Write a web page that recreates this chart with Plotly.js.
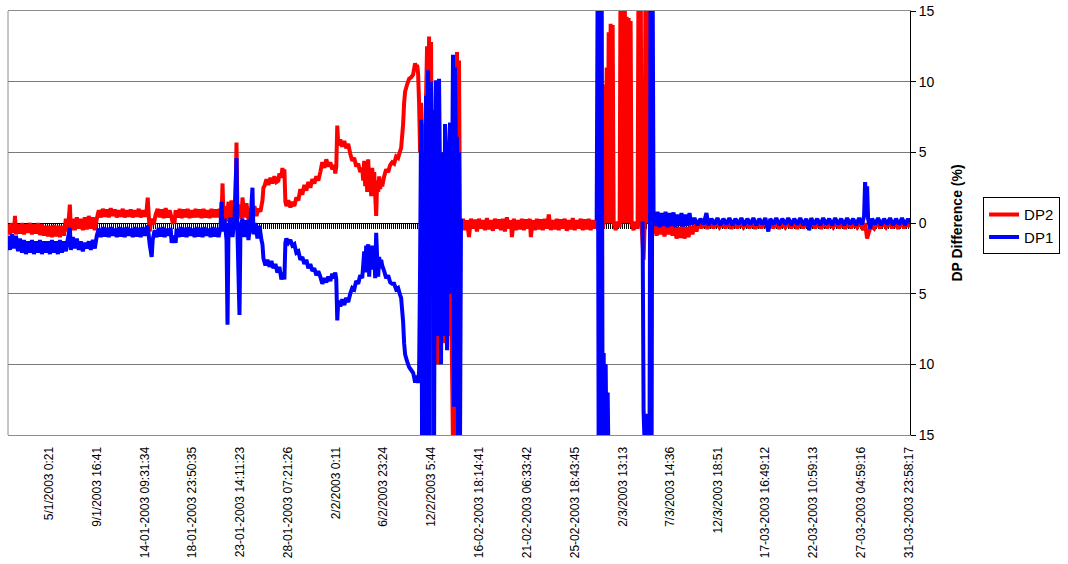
<!DOCTYPE html>
<html><head><meta charset="utf-8">
<script src="https://cdn.plot.ly/plotly-3.0.1.min.js"></script>
<style>html,body{margin:0;padding:0;background:#fff;}#chart{width:1068px;height:564px;}</style>
</head><body><div id="chart"></div>
<script>
// record index of each labelled category and the labels
const tickRecords = [41,89,137,185,233,281,329,376,424,472,520,568,616,664,712,759,807,855,903];
const tickLabels = ["5/1/2003 0:21","9/1/2003 16:41","14-01-2003 09:31:34","18-01-2003 23:50:35","23-01-2003 14:11:23","28-01-2003 07:21:26","2/2/2003 0:11","6/2/2003 23:24","12/2/2003 5:44","16-02-2003 18:14:41","21-02-2003 06:33:42","25-02-2003 18:43:45","2/3/2003 13:13","7/3/2003 14:36","12/3/2003 18:51","17-03-2003 16:49:12","22-03-2003 10:59:13","27-03-2003 04:59:16","31-03-2003 23:58:17"];
const yTicks = [-15,-10,-5,0,5,10,15];
const yTickLabels = ["15","10","5","0","5","10","15"];

// DP2 (record, % difference)
const dp2Jan = [[0,-0.1],[2,-0.8],[4,0.0],[6,-0.7],[7,0.5],[8,-0.8],[10,-0.1],[12,-0.75],[14,0.0],[16,-0.8],[18,-0.1],[20,-0.7],[22,0.0],[24,-0.8],[26,-0.1],[28,-0.75],[30,0.0],[32,-0.85],[34,-0.1],[36,-0.9],[38,-0.2],[40,-0.95],[42,-0.2],[44,-1.0],[46,-0.15],[48,-0.95],[50,-0.2],[52,-1.0],[54,-0.2],[56,-0.9],
[58,0.3],[60,-0.6],[62,1.3],[63,-0.5],[65,0.3],[67,-0.5],[69,0.4],[71,-0.4],[73,0.3],[75,-0.5],[77,0.4],[79,-0.45],[81,0.5],[83,-0.4],[85,0.4],[87,-0.5],[89,0.3],
[91,0.9],[93,0.4],[95,1.0],[97,0.45],[99,0.95],[101,0.4],[103,1.05],[105,0.5],[107,0.95],[109,0.4],[111,0.9],[113,0.45],[115,1.0],[117,0.4],[119,0.9],[121,0.45],[123,0.95],[125,0.4],[127,0.9],[129,0.45],[131,1.0],[133,0.4],[135,0.9],[137,0.45],[139,0.95],[140,1.8],[142,-0.6],[144,0.3],[146,-0.1],[148,0.6],
[150,1.0],[152,0.4],[154,0.95],[156,0.35],[158,1.05],[160,0.4],[162,0.9],[164,0.35],[165,0.05],[167,0.1],[168,0.9],[170,0.4],[172,1.0],[174,0.35],[176,0.95],[178,0.4],[180,1.0],[182,0.35],[184,0.9],[186,0.4],[188,1.0],[190,0.4],[192,0.95],[194,0.35],[196,1.0],[198,0.4],[200,0.9],[202,0.35],[204,1.0],[206,0.4],[208,0.95],[210,0.4],[212,1.0],
[214,0.4],[215,2.8],[216,0.2],[218,1.2],[219,0.1],[221,1.5],[222,0.3],[224,1.6],[226,0.2],[228,1.1],[229,5.7],[230,0.6],[232,1.3],[234,0.3],[235,1.8],[237,0.4],[239,1.4],[241,0.2],[243,1.0],[245,0.3],[247,1.2],[249,0.5],[251,1.0],[253,0.8],[255,1.6],[256,2.5],
[257,2.6],[259,3.1],[261,2.7],[263,3.2],[265,2.8],[267,3.3],[269,2.9],[271,3.0],[272,3.5],[274,3.2],[275,3.9],[276,3.3],[277,3.8],[278,1.5]];
const dp2Feb = [[279,1.2],[281,1.6],[283,1.1],[285,1.5],[287,1.2],[289,1.8],[291,1.6],[293,2.4],
[295,2.0],[297,2.7],[299,2.3],[301,2.9],[303,2.5],[305,3.1],[307,2.8],[309,3.3],[311,3.0],
[313,3.6],[315,4.3],[317,3.9],[319,4.5],[321,4.0],[323,4.3],[325,3.8],[327,4.1],[328,3.5],[329,4.0],[330,6.9],
[331,5.5],[333,5.9],[335,5.4],[337,5.8],[339,5.3],[341,5.6],
[343,4.9],[345,4.4],[347,4.6],[349,4.0],[351,4.2],[353,3.6],[355,3.9],
[356,3.0],[357,4.4],[358,2.6],[359,3.8],[360,2.2],[361,4.5],[362,2.8],[363,3.5],[364,1.9],[365,3.9],[366,2.5],[367,3.6],[368,2.0],[369,0.5],[370,3.0],[371,2.2],[372,3.3],[373,2.4],[374,3.1],[375,2.6],
[377,3.3],[379,3.8],[381,3.6],[383,4.1],[385,4.3],[387,4.2],[389,4.7],[391,4.6],[393,5.1],[394,5.3],
[396,7.0],[397,8.5],[398,9.3],[400,9.8],[402,10.2],[404,10.3],[406,10.5],[407,10.9],[408,11.3],[409,11.0],[410,11.2],
[411,10.6],[412,8.5],[413,5],[414,8.5],[415,3],[416,7],[417,-2],[418,5],[419,9],[420,12.5],[421,1],[422,13.2],[423,2],[424,12.8],[425,-4],[426,-16],[427,0],[428,-8],[429,-1],[430,-10],[431,-4],[432,-9.5],[433,-3],[434,-8],[435,-1],[436,-7],[437,-3],[438,-8.5],[439,-5],[440,-7],[441,-2],[442,-8],[443,-3],[444,-6],[445,-10],[446,-16],[447,-12],[448,-16],[449,0],[450,12.1],[451,-6.5],[452,11.5],[453,-0.3],[454,-0.4],
[456,0.3],[458,-0.5],[460,0.2],[462,-1.0],[464,0.3],[466,-0.4],[468,0.25],[470,-0.6],[472,0.3],[474,-0.4],[476,0.2],[478,-0.5],[480,0.35],[482,-0.45],[484,0.2],[486,-0.55],[488,0.3],[490,-0.4],[492,0.25],[494,-0.5],[496,0.3],[498,-0.6],[500,0.4],[502,-0.4],[504,0.2],[505,-1.0],[507,0.3],[509,-0.5],[511,0.2],[513,-0.45],[515,0.3],[517,-0.5],[519,0.25],[521,-0.4],[523,0.3],[524,-1.0],[526,0.2],[528,-0.5],[530,0.3],[532,-0.45],[534,0.25],[536,-0.5],[538,0.3],[540,-0.4],[542,0.6],[544,-0.5],[546,0.2],[548,-0.45],[550,0.3],[552,-0.5],[554,0.25],[556,-0.4],[558,0.3],[560,-0.55],[562,0.2],[564,-0.45],[566,0.35],[568,-0.5],[570,0.2],[572,-0.4],[574,0.3],[576,-0.5],[578,0.25],[580,-0.45],[582,0.3],[584,-0.5],[586,0.2],[588,-0.4],[590,0.2]];
const dp2Mar = [[592,-0.5],[594,0.1],[596,-0.4],[597,0],[598,9.8],[599,0],[600,11],[601,0],[602,13.5],[603,0],[604,14.1],[605,0.2],[606,14],[607,0],[609,-0.5],[611,0.1],[613,-0.3],[614,20],[615,0],[616,20],[617,0],[618,20],[619,0.1],[620,14.6],[621,0],[622,14.5],[623,0],[624,14.3],[625,-0.1],[627,-0.5],[629,0.1],[631,-0.4],[632,20],[633,0],[634,20],[635,-0.2],[637,-2.6],[638,-0.3],[639,20],[640,0],[641,20],[642,0],[643,20],[644,0],[646,-0.4],
[648,-0.2],[650,-0.9],[652,-0.1],[654,-0.8],[656,-0.2],[658,-0.95],[660,-0.1],[662,-0.8],[664,-0.2],[666,-0.9],[668,-0.2],[670,-1.1],[672,-0.3],[674,-1.05],[676,-0.2],[678,-1.1],[680,-0.3],[682,-1.0],[684,-0.2],[686,-0.8],[688,-0.1],[690,-0.6],[692,0.0],
[695,-0.35],[698,0.05],[701,-0.4],[704,0.0],[707,-0.35],[710,0.05],[713,-0.3],[716,0.0],[719,-0.35],[722,0.05],[725,-0.4],[728,0.0],[731,-0.35],[734,0.05],[737,-0.3],[740,0.0],[743,-0.35],[746,0.05],[749,-0.4],[752,0.0],[755,-0.35],[758,0.05],[761,-0.3],[764,0.0],[767,-0.35],[770,0.05],[773,-0.4],[776,0.0],[779,-0.3],[782,0.05],[785,-0.35],[788,0.0],[791,-0.4],[794,0.05],[797,-0.35],[800,0.0],[803,-0.3],[806,0.05],[809,-0.35],[812,0.0],[815,-0.4],[818,0.05],[821,-0.35],[824,0.0],[827,-0.3],[830,0.05],[833,-0.35],[836,0.0],[839,-0.4],[842,0.05],[845,-0.35],[848,0.0],[851,-0.3],[854,0.05],[857,-0.5],[859,0.0],[861,-1.1],[863,-0.6],[865,-0.2],[868,-0.4],[871,0.05],[874,-0.35],[877,0.0],[880,-0.3],[883,0.05],[886,-0.35],[889,0.0],[892,-0.4],[895,0.05],[898,-0.35],[901,0.0],[904,-0.3]];

// DP1 (record, % difference); null = no DP1 reading
const dp1Jan = [[0,-0.9],[2,-1.9],[4,-0.8],[6,-1.8],[8,-0.9],[10,-2.0],[12,-1.1],
[14,-2.1],[16,-1.2],[18,-2.2],[20,-1.3],[22,-2.1],[24,-1.2],[26,-2.2],[28,-1.3],[30,-2.1],[32,-1.2],[34,-2.2],[36,-1.3],[38,-2.1],[40,-1.3],[42,-2.2],[44,-1.2],[46,-2.1],[48,-1.3],[50,-2.2],[52,-1.2],[54,-2.1],[56,-1.3],
[58,-2.0],[60,-1.1],[62,-0.35],[63,-1.9],[65,-1.0],[67,-1.8],[69,-1.1],[71,-1.9],[73,-1.3],[75,-2.0],[77,-1.4],[79,-1.8],[81,-1.3],[83,-1.9],[85,-1.2],[87,-1.8],[89,-0.9],
[91,-0.4],[93,-1.0],[95,-0.3],[97,-0.95],[99,-0.35],[101,-1.0],[103,-0.3],[105,-0.9],[107,-0.4],[109,-1.0],[111,-0.3],[113,-0.95],[115,-0.35],[117,-1.0],[119,-0.3],[121,-0.9],[123,-0.4],[125,-1.0],[127,-0.3],[129,-0.95],[131,-0.35],[133,-1.0],[135,-0.3],[137,-0.9],[139,-0.4],[140,-0.2],[142,-1.5],[144,-2.4],[145,-1.2],[147,-0.5],
[149,-1.0],[151,-0.35],[153,-0.95],[155,-0.3],[157,-1.0],[159,-0.4],[161,-0.9],[163,-0.35],[164,-1.4],[166,-0.9],[168,-1.4],[169,-0.4],[171,-1.0],[173,-0.3],[175,-0.95],[177,-0.35],[179,-1.0],[181,-0.3],[183,-0.9],[185,-0.4],[187,-1.0],[189,-0.3],[191,-0.95],[193,-0.35],[195,-1.0],[197,-0.3],[199,-0.9],[201,-0.4],[203,-1.0],[205,-0.3],[207,-0.95],[209,-0.35],[211,-1.0],[213,-0.3],
[214,1.5],[215,-0.6],[217,0.3],[219,-1.2],[220,-7.2],[221,-0.5],[223,0.4],[225,-1.0],[227,0.2],[229,4.6],[230,-0.8],[232,-6.5],[233,-0.3],[235,0.3],[237,-1.0],[239,0.2],[241,-1.2],[243,0.1],[245,2.5],[246,-0.8],[248,0.0],[250,-1.1],[252,-0.2],[254,-1.2],[255,-1.5],
[256,-2.5],[258,-3.0],[260,-2.6],[262,-3.1],[264,-2.7],[266,-3.2],[268,-2.9],[270,-3.5],[272,-3.1],[274,-4.0],[276,-3.5],[277,-4.0],[278,-1.4]];
const dp1Feb = [[279,-1.1],[281,-1.4],[283,-1.2],[285,-1.6],[287,-1.5],[289,-2.1],[291,-2.0],[293,-2.6],
[295,-2.4],[297,-2.9],[299,-2.6],[301,-3.2],[303,-2.9],[305,-3.4],[307,-3.2],[309,-3.7],[311,-3.4],
[313,-3.8],[315,-4.3],[317,-3.9],[319,-4.2],[321,-3.8],[323,-4.1],[325,-3.6],[327,-3.9],[328,-3.5],[329,-4.0],[330,-6.9],
[331,-5.5],[333,-5.9],[335,-5.4],[337,-5.8],[339,-5.3],[341,-5.6],
[343,-5.0],[345,-4.6],[347,-4.7],[349,-4.1],[351,-4.3],[353,-3.7],[355,-3.9],
[356,-3.0],[357,-2.0],[358,-3.5],[359,-1.6],[360,-2.8],[361,-1.5],[362,-3.8],[363,-1.9],[364,-3.3],[365,-1.6],[366,-3.0],[367,-2.0],[368,-3.9],[369,-0.7],[370,-2.5],[371,-3.8],[372,-2.4],[373,-3.2],[374,-2.6],[375,-3.0],
[377,-3.4],[379,-3.9],[381,-3.7],[383,-4.2],[385,-4.3],[387,-4.3],[389,-4.7],[391,-4.6],[393,-5.1],[394,-5.3],
[396,-7.0],[397,-8.5],[398,-9.3],[400,-9.8],[402,-10.2],[404,-10.4],[406,-10.6],[407,-10.9],[408,-11.3],[409,-10.8],[410,-11.0],
[411,-11.3],[412,-10.5],[413,-3],[414,7.3],[415,-16],[416,5],[417,-16],[418,3],[419,9],[420,-16],[421,10.8],[422,-16],[423,6],[424,10],[425,-2],[426,8],[427,-16],[428,6],[429,10.1],[430,-8],[431,7],[432,10.2],[433,3],[434,-10],[435,5],[436,2],[437,-8],[438,7],[439,5],[440,-9],[441,5],[442,3],[443,7.1],[444,-5],[445,2],[446,11.9],[447,-13],[448,11],[449,4],[450,6.1],[451,-16],[452,5],[453,-16],[454,0.3],[455,null]];
const dp1Mar = [[590,0.2],[591,18],[592,-18],[593,18],[594,-18],[595,18],[596,-18],[597,-9.2],[598,-18],[599,-10],[600,-18],[601,-12],[602,-18],[603,null],
[636,0.1],[637,-13.4],[638,-15.5],[639,-13.5],[640,-16],[641,-13.6],[642,-16],[643,-14],[644,18],[645,-18],[646,18],[647,0.6],
[649,-0.2],[651,0.8],[653,-0.3],[655,0.7],[657,-0.2],[659,0.8],[661,-0.3],[663,0.7],[665,-0.2],[667,0.75],[669,-0.3],[671,0.6],[673,-0.2],[675,0.7],[677,-0.25],[679,0.6],[681,-0.2],[683,0.7],[685,-0.1],
[688,0.35],[691,-0.15],[694,0.3],[697,-0.1],[700,0.7],[702,-0.15],[705,0.3],[708,-0.1],[711,0.35],[714,-0.15],[717,0.3],[720,-0.1],[723,0.35],[726,-0.15],[729,0.3],[732,-0.1],[735,0.35],[738,-0.15],[741,0.3],[744,-0.1],[747,0.35],[750,-0.15],[753,0.3],[756,-0.1],[759,0.35],[762,-0.6],[764,0.3],[767,-0.1],[770,0.35],[773,-0.15],[776,0.3],[779,-0.1],[782,0.35],[785,-0.15],[788,0.3],[791,-0.1],[794,0.35],[797,-0.15],[800,0.3],[803,-0.5],[805,0.35],[808,-0.1],[811,0.3],[814,-0.15],[817,0.35],[820,-0.1],[823,0.3],[826,-0.15],[829,0.35],[832,-0.1],[835,0.3],[838,-0.15],[841,0.35],[844,-0.1],[847,0.3],[850,-0.15],[853,0.35],[856,-0.1],[858,0.5],[859,2.9],[860,1.0],[861,2.6],[862,0.3],[864,-0.4],[866,0.3],[869,-0.1],[872,0.35],[875,-0.15],[878,0.3],[881,-0.1],[884,0.35],[887,-0.15],[890,0.3],[893,-0.1],[896,0.35],[899,-0.15],[902,0.3],[904,0.0]];

const dp2 = dp2Jan.concat(dp2Feb, dp2Mar);
const dp1 = dp1Jan.concat(dp1Feb, dp1Mar);
const FONT = "'Liberation Sans', Arial, sans-serif";

const traces = [
  {type:'scatter', mode:'lines', name:'DP2', x: dp2.map(p=>p[0]), y: dp2.map(p=>p[1]),
   line:{color:'#FF0000', width:4, simplify:false}, hoverinfo:'skip'},
  {type:'scatter', mode:'lines', name:'DP1', x: dp1.map(p=>p[0]), y: dp1.map(p=>p[1]),
   line:{color:'#0000FF', width:4, simplify:false}, hoverinfo:'skip', connectgaps:false},
  {type:'scatter', mode:'lines', x:[null], y:[null], xaxis:'x2', yaxis:'y', showlegend:false, hoverinfo:'skip'}
];

const layout = {
  width:1068, height:564,
  margin:{l:8, r:156, t:11, b:129},
  paper_bgcolor:'#fff', plot_bgcolor:'#fff',
  font:{family:FONT, color:'#000'},
  showlegend:true,
  legend:{x:1.081, y:0.561, xanchor:'left', yanchor:'top', bordercolor:'#000', borderwidth:1,
          bgcolor:'#fff', font:{family:FONT, size:15, color:'#000'}, tracegroupgap:0},
  // category axis crossing at zero, dense tick marks
  xaxis:{range:[0,904], anchor:'free', position:0.5, showline:true, linecolor:'#000', linewidth:1,
         ticks:'outside', ticklen:5, tickwidth:1, tickcolor:'#000', tickmode:'linear', tick0:0, dtick:2,
         showticklabels:false, showgrid:false, zeroline:false, layer:'below traces', fixedrange:true},
  // labelled category axis at the bottom of the plot
  xaxis2:{range:[0,904], overlaying:'x', anchor:'y', side:'bottom', showline:true, mirror:true,
          linecolor:'#8c8c8c', linewidth:1, ticks:'', tickmode:'array', tickvals:tickRecords, ticktext:tickLabels,
          tickangle:-90, tickfont:{family:FONT, size:12, color:'#000'}, ticklabelstandoff:6,
          showgrid:false, zeroline:false},
  yaxis:{range:[-15,15], side:'right', tickmode:'array', tickvals:yTicks, ticktext:yTickLabels,
         showgrid:true, gridcolor:'#7a7a7a', gridwidth:1, zeroline:false,
         showline:true, linecolor:'#000', linewidth:1, ticks:'outside', ticklen:5, tickcolor:'#000',
         tickfont:{family:FONT, size:14, color:'#000'},
         title:{text:'DP Difference (%)', font:{family:FONT, size:14, color:'#000', weight:'bold'}, standoff:18}},
  shapes:[{type:'line', xref:'paper', yref:'paper', x0:0, x1:0, y0:0, y1:1, line:{color:'#8c8c8c', width:1}, layer:'below'}]
};

Plotly.newPlot('chart', traces, layout, {displayModeBar:false, staticPlot:true});
</script></body></html>
